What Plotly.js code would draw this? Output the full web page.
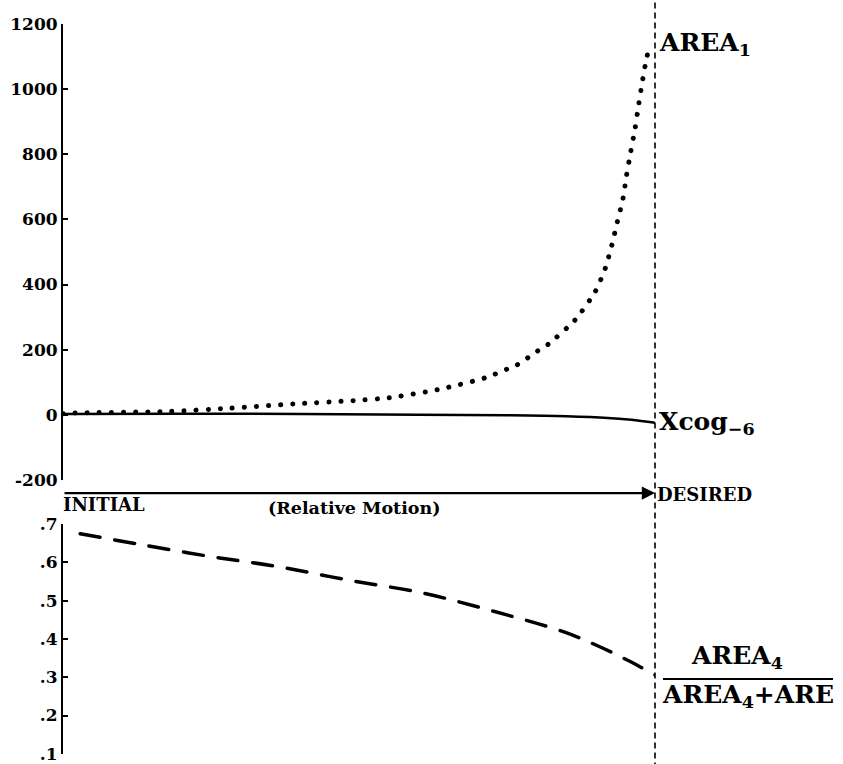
<!DOCTYPE html>
<html>
<head>
<meta charset="utf-8">
<script src="https://cdn.plot.ly/plotly-3.0.1.min.js"></script>
<style>
  html, body { margin: 0; padding: 0; background: #fff; }
  #chart { width: 843px; height: 764px; }
  .scatterlayer .js-line { stroke-linecap: round; }
</style>
</head>
<body>
<div id="chart"></div>
<script>
// Relative motion (0 = INITIAL, 1 = DESIRED)
const area1Motion = [0, 0.017, 0.181, 0.282, 0.389, 0.490, 0.551, 0.633, 0.713, 0.750, 0.767, 0.802, 0.820, 0.865, 0.899, 0.916, 0.927, 0.936, 0.946, 0.952, 0.959, 0.966, 0.972, 0.978, 0.985, 0.990];
const area1Values = [3, 5, 10, 20, 33, 43, 52, 77, 113, 140, 153, 196, 217, 291, 378, 450, 521, 590, 665, 736, 808, 876, 948, 1017, 1089, 1128];

const xcogMotion = [0, 0.2, 0.4, 0.6, 0.75, 0.85, 0.92, 0.96, 1.0];
const xcogValues = [2, 3, 2, 0, -2, -5, -10, -16, -25];

const ratioMotion = [0.029, 0.127, 0.243, 0.363, 0.485, 0.608, 0.726, 0.845, 0.902, 0.953, 1.0];
const ratioValues = [0.675, 0.648, 0.617, 0.589, 0.553, 0.520, 0.473, 0.419, 0.383, 0.345, 0.306];

const topTickVals = [-200, 0, 200, 400, 600, 800, 1000, 1200];
const topTickText = ["-200", "0", "200", "400", "600", "800", "1000", "1200"];
const bottomTickVals = [0.1, 0.2, 0.3, 0.4, 0.5, 0.6, 0.7];
const bottomTickText = [".1", ".2", ".3", ".4", ".5", ".6", ".7"];

const FONT = "DejaVu Serif";

const traces = [
  {
    x: area1Motion, y: area1Values, xaxis: 'x', yaxis: 'y',
    mode: 'lines', line: {color: '#000', width: 5, dash: '0.1px,12px', shape: 'spline', smoothing: 0.6},
    hoverinfo: 'skip'
  },
  {
    x: xcogMotion, y: xcogValues, xaxis: 'x', yaxis: 'y',
    mode: 'lines', line: {color: '#000', width: 2.5, shape: 'spline'},
    hoverinfo: 'skip'
  },
  {
    x: ratioMotion, y: ratioValues, xaxis: 'x2', yaxis: 'y2',
    mode: 'lines', line: {color: '#000', width: 3.5, dash: '20px,15px', shape: 'spline'},
    hoverinfo: 'skip'
  }
];

const axisCommon = {
  showline: true, linecolor: '#000', linewidth: 2,
  ticks: 'inside', ticklen: 5, tickwidth: 2, tickcolor: '#000',
  showgrid: false, zeroline: false,
  tickfont: {family: FONT, size: 17, color: '#000', weight: 'bold'},
  tickmode: 'array',
  ticklabeloverflow: 'allow'
};

const lblFont = {family: FONT, size: 25, color: '#000', weight: 'bold'};
const smallFont = {family: FONT, size: 18, color: '#000', weight: 'bold'};

const layout = {
  width: 843, height: 764,
  margin: {l: 63, r: 188, t: 24, b: 10},
  paper_bgcolor: '#fff', plot_bgcolor: '#fff',
  showlegend: false,
  xaxis: {domain: [0, 1], range: [0, 1], visible: false},
  xaxis2: {domain: [0, 1], range: [0, 1], visible: false, anchor: 'y2'},
  yaxis: Object.assign({}, axisCommon, {domain: [0.3753, 1], range: [-201, 1201], tickvals: topTickVals, ticktext: topTickText}),
  yaxis2: Object.assign({}, axisCommon, {domain: [0, 0.3151], range: [0.0995, 0.7005], tickvals: bottomTickVals, ticktext: bottomTickText, anchor: 'x2'}),
  shapes: [
    {type: 'line', xref: 'paper', yref: 'paper', x0: 1, x1: 1, y0: -0.02, y1: 1.04,
     line: {color: '#000', width: 1.6, dash: '6px,4px'}},
    {type: 'line', xref: 'paper', yref: 'paper', x0: 1.0135, x1: 1.3007, y0: 0.1027, y1: 0.1027,
     line: {color: '#000', width: 2}}
  ],
  annotations: [
    {xref: 'x', yref: 'paper', x: 1, y: 0.3575, axref: 'x', ax: 0, ayref: 'pixel', ay: 0,
     showarrow: true, arrowhead: 2, arrowsize: 1.2, arrowwidth: 2.2, arrowcolor: '#000', text: ''},
    {xref: 'paper', yref: 'y', x: 1, y: 1141, xanchor: 'left', yanchor: 'middle', xshift: 2,
     text: 'AREA<sub>1</sub>', showarrow: false, font: lblFont},
    {xref: 'paper', yref: 'y', x: 1, y: -25, xanchor: 'left', yanchor: 'middle', xshift: 2,
     text: 'Xcog<sub>−6</sub>', showarrow: false, font: lblFont},
    {xref: 'paper', yref: 'paper', x: 1, y: 0.3548, xanchor: 'left', yanchor: 'middle', xshift: 0,
     text: 'DESIRED', showarrow: false, font: smallFont},
    {xref: 'paper', yref: 'paper', x: 0, y: 0.3411, xanchor: 'left', yanchor: 'middle', xshift: -2,
     text: 'INITIAL', showarrow: false, font: smallFont},
    {xref: 'paper', yref: 'paper', x: 0.4916, y: 0.337, xanchor: 'center', yanchor: 'middle',
     text: '(Relative Motion)', showarrow: false, font: {family: FONT, size: 17.5, color: '#000', weight: 'bold'}},
    {xref: 'paper', yref: 'y2', x: 1.139, y: 0.352, xanchor: 'center', yanchor: 'middle',
     text: 'AREA<sub>4</sub>', showarrow: false, font: lblFont},
    {xref: 'paper', yref: 'y2', x: 1.0135, y: 0.250, xanchor: 'left', yanchor: 'middle', xshift: -3,
     text: 'AREA<sub>4</sub>+ARE', showarrow: false, font: lblFont}
  ]
};

Plotly.newPlot('chart', traces, layout, {displayModeBar: false, staticPlot: true});
</script>
</body>
</html>
